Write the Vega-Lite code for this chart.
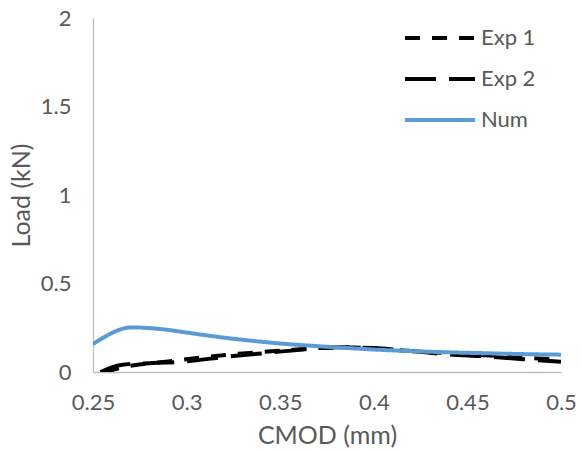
{
  "$schema": "https://vega.github.io/schema/vega-lite/v6.json",
  "autosize": "none",
  "width": 468,
  "height": 354,
  "padding": {"left": 93, "top": 18, "right": 21, "bottom": 80},
  "background": "white",
  "config": {
    "view": {"stroke": null},
    "font": "Lato",
    "axis": {
      "grid": false,
      "ticks": false,
      "domainColor": "#bfbfbf",
      "domainWidth": 1.3,
      "labelColor": "#595959",
      "titleColor": "#595959",
      "labelFont": "Lato",
      "titleFont": "Lato",
      "labelFontSize": 22,
      "titleFontSize": 25,
      "titleFontWeight": "normal",
      "labelFlush": false,
      "labelOverlap": false,
      "labelBound": false
    },
    "legend": {
      "orient": "none",
      "legendX": 310,
      "legendY": 10,
      "padding": 0,
      "symbolType": "stroke",
      "symbolSize": 4900,
      "labelFontSize": 22,
      "labelColor": "#595959",
      "labelFont": "Lato",
      "clipHeight": 20,
      "rowPadding": 19,
      "labelOffset": 4
    }
  },
  "data": {
    "values": [
      {"series": "Exp 1", "x": 0.256, "y": 0.0},
      {"series": "Exp 1", "x": 0.27, "y": 0.035},
      {"series": "Exp 1", "x": 0.29, "y": 0.06},
      {"series": "Exp 1", "x": 0.31, "y": 0.085},
      {"series": "Exp 1", "x": 0.33, "y": 0.105},
      {"series": "Exp 1", "x": 0.35, "y": 0.12},
      {"series": "Exp 1", "x": 0.37, "y": 0.135},
      {"series": "Exp 1", "x": 0.39, "y": 0.138},
      {"series": "Exp 1", "x": 0.41, "y": 0.125},
      {"series": "Exp 1", "x": 0.43, "y": 0.112},
      {"series": "Exp 1", "x": 0.45, "y": 0.1},
      {"series": "Exp 1", "x": 0.47, "y": 0.088},
      {"series": "Exp 1", "x": 0.49, "y": 0.075},
      {"series": "Exp 1", "x": 0.5, "y": 0.07},
      {"series": "Exp 2", "x": 0.254, "y": 0.0},
      {"series": "Exp 2", "x": 0.265, "y": 0.04},
      {"series": "Exp 2", "x": 0.28, "y": 0.05},
      {"series": "Exp 2", "x": 0.3, "y": 0.06},
      {"series": "Exp 2", "x": 0.32, "y": 0.085},
      {"series": "Exp 2", "x": 0.34, "y": 0.105},
      {"series": "Exp 2", "x": 0.36, "y": 0.125},
      {"series": "Exp 2", "x": 0.38, "y": 0.14},
      {"series": "Exp 2", "x": 0.4, "y": 0.135},
      {"series": "Exp 2", "x": 0.42, "y": 0.118},
      {"series": "Exp 2", "x": 0.44, "y": 0.1},
      {"series": "Exp 2", "x": 0.46, "y": 0.088},
      {"series": "Exp 2", "x": 0.48, "y": 0.072},
      {"series": "Exp 2", "x": 0.5, "y": 0.058},
      {"series": "Num", "x": 0.25, "y": 0.158},
      {"series": "Num", "x": 0.271, "y": 0.252},
      {"series": "Num", "x": 0.28, "y": 0.248},
      {"series": "Num", "x": 0.29, "y": 0.238},
      {"series": "Num", "x": 0.3, "y": 0.223},
      {"series": "Num", "x": 0.31, "y": 0.208},
      {"series": "Num", "x": 0.32, "y": 0.194},
      {"series": "Num", "x": 0.33, "y": 0.182},
      {"series": "Num", "x": 0.34, "y": 0.171},
      {"series": "Num", "x": 0.35, "y": 0.161},
      {"series": "Num", "x": 0.36, "y": 0.153},
      {"series": "Num", "x": 0.37, "y": 0.146},
      {"series": "Num", "x": 0.38, "y": 0.139},
      {"series": "Num", "x": 0.39, "y": 0.133},
      {"series": "Num", "x": 0.4, "y": 0.127},
      {"series": "Num", "x": 0.42, "y": 0.118},
      {"series": "Num", "x": 0.44, "y": 0.111},
      {"series": "Num", "x": 0.46, "y": 0.106},
      {"series": "Num", "x": 0.48, "y": 0.101},
      {"series": "Num", "x": 0.5, "y": 0.098}
    ]
  },
  "mark": {"type": "line", "interpolate": "monotone", "clip": true},
  "encoding": {
    "x": {
      "field": "x", "type": "quantitative", "title": "CMOD (mm)",
      "scale": {"domain": [0.25, 0.5], "nice": false, "zero": false},
      "axis": {"values": [0.25, 0.3, 0.35, 0.4, 0.45, 0.5], "format": "~g", "labelPadding": 20, "titlePadding": 10}
    },
    "y": {
      "field": "y", "type": "quantitative", "title": "Load (kN)",
      "scale": {"domain": [0, 2], "nice": false},
      "axis": {"values": [0, 0.5, 1, 1.5, 2], "format": "~g", "labelPadding": 22, "titlePadding": 6}
    },
    "color": {
      "field": "series", "type": "nominal", "title": null,
      "scale": {"domain": ["Exp 1", "Exp 2", "Num"], "range": ["#000000", "#000000", "#5b9bd5"]}
    },
    "strokeDash": {
      "field": "series", "type": "nominal", "title": null,
      "scale": {"domain": ["Exp 1", "Exp 2", "Num"], "range": [[15, 12], [31, 13], [1, 0]]}
    },
    "strokeWidth": {
      "field": "series", "type": "nominal", "title": null,
      "scale": {"domain": ["Exp 1", "Exp 2", "Num"], "range": [4, 4, 3.3]}
    }
  }
}
